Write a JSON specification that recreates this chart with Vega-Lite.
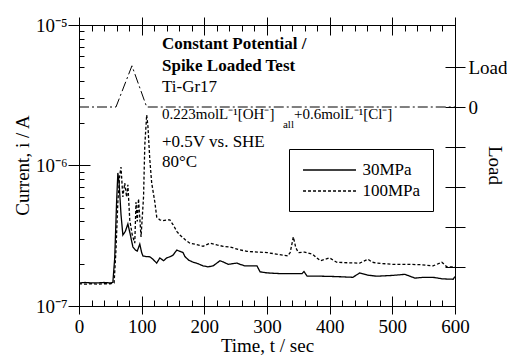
{
  "$schema": "https://vega.github.io/schema/vega-lite/v6.json",
  "width": 376,
  "height": 281,
  "autosize": {"type": "none"},
  "padding": {"left": 79, "top": 25, "right": 52, "bottom": 50},
  "background": "white",
  "config": {
    "view": {"stroke": "black", "strokeWidth": 1},
    "font": "Liberation Serif",
    "mark": {"color": "black"},
    "axis": {
      "grid": false,
      "domain": false,
      "labelFont": "Liberation Serif",
      "titleFont": "Liberation Serif",
      "labelFontSize": 19,
      "titleFontSize": 19,
      "labelColor": "black",
      "titleColor": "black",
      "tickColor": "black",
      "titleFontWeight": "normal",
      "labelFlush": false,
      "labelOverlap": false,
      "tickWidth": 1
    }
  },
  "datasets": {
    "current": [
      {"t": 0, "i": 1.46e-7, "series": "30MPa"},
      {"t": 10, "i": 1.47e-7, "series": "30MPa"},
      {"t": 20, "i": 1.46e-7, "series": "30MPa"},
      {"t": 30, "i": 1.46e-7, "series": "30MPa"},
      {"t": 40, "i": 1.47e-7, "series": "30MPa"},
      {"t": 50, "i": 1.46e-7, "series": "30MPa"},
      {"t": 54, "i": 1.47e-7, "series": "30MPa"},
      {"t": 57, "i": 2.2e-7, "series": "30MPa"},
      {"t": 60, "i": 5.5e-7, "series": "30MPa"},
      {"t": 62, "i": 8.85e-7, "series": "30MPa"},
      {"t": 64, "i": 7.5e-7, "series": "30MPa"},
      {"t": 67, "i": 4.5e-7, "series": "30MPa"},
      {"t": 70, "i": 3.2e-7, "series": "30MPa"},
      {"t": 74, "i": 3.4e-7, "series": "30MPa"},
      {"t": 78, "i": 3.84e-7, "series": "30MPa"},
      {"t": 82, "i": 3.2e-7, "series": "30MPa"},
      {"t": 86, "i": 2.63e-7, "series": "30MPa"},
      {"t": 90, "i": 2.5e-7, "series": "30MPa"},
      {"t": 93, "i": 2.46e-7, "series": "30MPa"},
      {"t": 97, "i": 2.76e-7, "series": "30MPa"},
      {"t": 100, "i": 2.4e-7, "series": "30MPa"},
      {"t": 102, "i": 2.27e-7, "series": "30MPa"},
      {"t": 107, "i": 2.25e-7, "series": "30MPa"},
      {"t": 113, "i": 2.24e-7, "series": "30MPa"},
      {"t": 118, "i": 2.15e-7, "series": "30MPa"},
      {"t": 124, "i": 2.02e-7, "series": "30MPa"},
      {"t": 129, "i": 2.2e-7, "series": "30MPa"},
      {"t": 135, "i": 2.1e-7, "series": "30MPa"},
      {"t": 140, "i": 2.2e-7, "series": "30MPa"},
      {"t": 145, "i": 2.24e-7, "series": "30MPa"},
      {"t": 150, "i": 2.3e-7, "series": "30MPa"},
      {"t": 156, "i": 2.5e-7, "series": "30MPa"},
      {"t": 161, "i": 2.45e-7, "series": "30MPa"},
      {"t": 166, "i": 2.4e-7, "series": "30MPa"},
      {"t": 169, "i": 2.25e-7, "series": "30MPa"},
      {"t": 175, "i": 2.12e-7, "series": "30MPa"},
      {"t": 182, "i": 2.05e-7, "series": "30MPa"},
      {"t": 190, "i": 2.0e-7, "series": "30MPa"},
      {"t": 198, "i": 1.93e-7, "series": "30MPa"},
      {"t": 206, "i": 1.9e-7, "series": "30MPa"},
      {"t": 214, "i": 1.93e-7, "series": "30MPa"},
      {"t": 220, "i": 2.02e-7, "series": "30MPa"},
      {"t": 225, "i": 2.1e-7, "series": "30MPa"},
      {"t": 231, "i": 2.05e-7, "series": "30MPa"},
      {"t": 238, "i": 1.98e-7, "series": "30MPa"},
      {"t": 245, "i": 2.0e-7, "series": "30MPa"},
      {"t": 252, "i": 2.02e-7, "series": "30MPa"},
      {"t": 258, "i": 1.97e-7, "series": "30MPa"},
      {"t": 265, "i": 1.93e-7, "series": "30MPa"},
      {"t": 275, "i": 1.93e-7, "series": "30MPa"},
      {"t": 284, "i": 1.93e-7, "series": "30MPa"},
      {"t": 289, "i": 1.75e-7, "series": "30MPa"},
      {"t": 300, "i": 1.72e-7, "series": "30MPa"},
      {"t": 321, "i": 1.7e-7, "series": "30MPa"},
      {"t": 340, "i": 1.7e-7, "series": "30MPa"},
      {"t": 356, "i": 1.7e-7, "series": "30MPa"},
      {"t": 359, "i": 1.76e-7, "series": "30MPa"},
      {"t": 364, "i": 1.63e-7, "series": "30MPa"},
      {"t": 385, "i": 1.63e-7, "series": "30MPa"},
      {"t": 410, "i": 1.62e-7, "series": "30MPa"},
      {"t": 437, "i": 1.6e-7, "series": "30MPa"},
      {"t": 448, "i": 1.72e-7, "series": "30MPa"},
      {"t": 460, "i": 1.66e-7, "series": "30MPa"},
      {"t": 475, "i": 1.63e-7, "series": "30MPa"},
      {"t": 500, "i": 1.65e-7, "series": "30MPa"},
      {"t": 520, "i": 1.68e-7, "series": "30MPa"},
      {"t": 536, "i": 1.58e-7, "series": "30MPa"},
      {"t": 550, "i": 1.6e-7, "series": "30MPa"},
      {"t": 565, "i": 1.6e-7, "series": "30MPa"},
      {"t": 580, "i": 1.56e-7, "series": "30MPa"},
      {"t": 597, "i": 1.55e-7, "series": "30MPa"},
      {"t": 600, "i": 1.62e-7, "series": "30MPa"},
      {"t": 0, "i": 1.44e-7, "series": "100MPa"},
      {"t": 10, "i": 1.43e-7, "series": "100MPa"},
      {"t": 20, "i": 1.44e-7, "series": "100MPa"},
      {"t": 30, "i": 1.43e-7, "series": "100MPa"},
      {"t": 40, "i": 1.44e-7, "series": "100MPa"},
      {"t": 50, "i": 1.44e-7, "series": "100MPa"},
      {"t": 56, "i": 1.46e-7, "series": "100MPa"},
      {"t": 59, "i": 2.5e-7, "series": "100MPa"},
      {"t": 62, "i": 5.5e-7, "series": "100MPa"},
      {"t": 65, "i": 8.5e-7, "series": "100MPa"},
      {"t": 67, "i": 9.75e-7, "series": "100MPa"},
      {"t": 70, "i": 5.97e-7, "series": "100MPa"},
      {"t": 73, "i": 7.5e-7, "series": "100MPa"},
      {"t": 76, "i": 5.97e-7, "series": "100MPa"},
      {"t": 78, "i": 7.3e-7, "series": "100MPa"},
      {"t": 81, "i": 4.1e-7, "series": "100MPa"},
      {"t": 85, "i": 3.2e-7, "series": "100MPa"},
      {"t": 89, "i": 2.8e-7, "series": "100MPa"},
      {"t": 91, "i": 5.5e-7, "series": "100MPa"},
      {"t": 93, "i": 4.0e-7, "series": "100MPa"},
      {"t": 95, "i": 5.8e-7, "series": "100MPa"},
      {"t": 99, "i": 3.1e-7, "series": "100MPa"},
      {"t": 103, "i": 6.0e-7, "series": "100MPa"},
      {"t": 105, "i": 1.4e-6, "series": "100MPa"},
      {"t": 108, "i": 2.29e-6, "series": "100MPa"},
      {"t": 110, "i": 1.9e-6, "series": "100MPa"},
      {"t": 113, "i": 1.1e-6, "series": "100MPa"},
      {"t": 116, "i": 7.5e-7, "series": "100MPa"},
      {"t": 121, "i": 5.5e-7, "series": "100MPa"},
      {"t": 124, "i": 4.3e-7, "series": "100MPa"},
      {"t": 129, "i": 4.1e-7, "series": "100MPa"},
      {"t": 134, "i": 4.05e-7, "series": "100MPa"},
      {"t": 140, "i": 4.1e-7, "series": "100MPa"},
      {"t": 145, "i": 4.1e-7, "series": "100MPa"},
      {"t": 150, "i": 3.8e-7, "series": "100MPa"},
      {"t": 156, "i": 3.4e-7, "series": "100MPa"},
      {"t": 161, "i": 3.2e-7, "series": "100MPa"},
      {"t": 170, "i": 2.95e-7, "series": "100MPa"},
      {"t": 177, "i": 2.8e-7, "series": "100MPa"},
      {"t": 186, "i": 2.75e-7, "series": "100MPa"},
      {"t": 198, "i": 2.66e-7, "series": "100MPa"},
      {"t": 209, "i": 2.8e-7, "series": "100MPa"},
      {"t": 220, "i": 2.72e-7, "series": "100MPa"},
      {"t": 230, "i": 2.66e-7, "series": "100MPa"},
      {"t": 241, "i": 2.63e-7, "series": "100MPa"},
      {"t": 255, "i": 2.52e-7, "series": "100MPa"},
      {"t": 268, "i": 2.45e-7, "series": "100MPa"},
      {"t": 285, "i": 2.42e-7, "series": "100MPa"},
      {"t": 300, "i": 2.4e-7, "series": "100MPa"},
      {"t": 318, "i": 2.33e-7, "series": "100MPa"},
      {"t": 333, "i": 2.27e-7, "series": "100MPa"},
      {"t": 337, "i": 2.4e-7, "series": "100MPa"},
      {"t": 342, "i": 3.1e-7, "series": "100MPa"},
      {"t": 346, "i": 2.6e-7, "series": "100MPa"},
      {"t": 350, "i": 2.4e-7, "series": "100MPa"},
      {"t": 360, "i": 2.42e-7, "series": "100MPa"},
      {"t": 373, "i": 2.33e-7, "series": "100MPa"},
      {"t": 385, "i": 2.1e-7, "series": "100MPa"},
      {"t": 393, "i": 2.15e-7, "series": "100MPa"},
      {"t": 400, "i": 2.2e-7, "series": "100MPa"},
      {"t": 411, "i": 2.05e-7, "series": "100MPa"},
      {"t": 430, "i": 2.03e-7, "series": "100MPa"},
      {"t": 448, "i": 2.02e-7, "series": "100MPa"},
      {"t": 461, "i": 2.15e-7, "series": "100MPa"},
      {"t": 468, "i": 2.05e-7, "series": "100MPa"},
      {"t": 475, "i": 2.02e-7, "series": "100MPa"},
      {"t": 501, "i": 1.98e-7, "series": "100MPa"},
      {"t": 520, "i": 1.98e-7, "series": "100MPa"},
      {"t": 544, "i": 1.97e-7, "series": "100MPa"},
      {"t": 565, "i": 1.93e-7, "series": "100MPa"},
      {"t": 579, "i": 2.05e-7, "series": "100MPa"},
      {"t": 587, "i": 1.9e-7, "series": "100MPa"},
      {"t": 600, "i": 1.9e-7, "series": "100MPa"}
    ],
    "load": [
      {"t": 0, "load": 0},
      {"t": 59, "load": 0},
      {"t": 84.5, "load": 1.03},
      {"t": 108, "load": 0},
      {"t": 600, "load": 0}
    ],
    "bold": [
      {"t": 132.4, "i": 6.71e-6, "txt": "Constant Potential /"},
      {"t": 132.4, "i": 4.71e-6, "txt": "Spike Loaded Test"}
    ],
    "notes": [
      {"t": 132.4, "i": 3.35e-6, "txt": "Ti-Gr17"},
      {"t": 132.4, "i": 1.355e-6, "txt": "+0.5V vs. SHE"},
      {"t": 132.4, "i": 9.75e-7, "txt": "80°C"}
    ],
    "formula": [
      {"t": 132.4, "i": 2.14e-6, "txt": "0.223molL⁻¹[OH⁻]"},
      {"t": 343, "i": 2.14e-6, "txt": "+0.6molL⁻¹[Cl⁻]"}
    ],
    "sub": [
      {"t": 325.5, "i": 1.85e-6, "txt": "all"}
    ]
  },
  "layer": [
    {
      "data": {"name": "current"},
      "mark": {"type": "line", "strokeWidth": 1.3, "color": "black"},
      "encoding": {
        "x": {
          "field": "t", "type": "quantitative",
          "scale": {"domain": [0, 600], "nice": false, "zero": false},
          "axis": {
            "orient": "bottom", "values": [0, 100, 200, 300, 400, 500, 600],
            "offset": -10, "tickSize": 18, "labelPadding": 3,
            "title": "Time, t / sec", "titleX": 188, "titleY": 55,
            "titleAlign": "center", "titleBaseline": "alphabetic"
          }
        },
        "y": {
          "field": "i", "type": "quantitative",
          "scale": {"type": "log", "domain": [1e-7, 1e-5], "nice": false},
          "axis": {
            "orient": "left", "values": [1e-7, 1e-6, 1e-5],
            "offset": -11, "tickSize": 22, "labelPadding": 1,
            "labelExpr": "'10' + (datum.value < 5e-7 ? '⁻⁷' : datum.value < 5e-6 ? '⁻⁶' : '⁻⁵')",
            "title": "Current, i / A", "titleAngle": -90, "titleX": -62, "titleY": 140,
            "titleAlign": "center", "titleBaseline": "alphabetic"
          }
        },
        "strokeDash": {
          "field": "series", "type": "nominal",
          "scale": {"domain": ["30MPa", "100MPa"], "range": [[1, 0], [3, 2]]},
          "legend": {
            "title": null, "orient": "none", "legendX": 210, "legendY": 124,
            "padding": 12, "strokeColor": "black", "fillColor": "white",
            "symbolType": "M-3.31,0L3.31,0", "symbolSize": 256, "symbolStrokeWidth": 1.3,
            "symbolStrokeColor": "black", "symbolOffset": 19.5, "labelOffset": 24,
            "labelFontSize": 17, "labelFont": "Liberation Serif", "labelColor": "black",
            "rowPadding": 4
          }
        }
      }
    },
    {
      "data": {"name": "bold"},
      "mark": {"type": "text", "align": "left", "baseline": "alphabetic", "fontSize": 17, "fontWeight": "bold", "font": "Liberation Serif", "color": "black"},
      "encoding": {
        "x": {
          "field": "t", "type": "quantitative",
          "scale": {"domain": [0, 600], "nice": false, "zero": false},
          "axis": {
            "orient": "bottom",
            "values": [20, 40, 60, 80, 120, 140, 160, 180, 220, 240, 260, 280, 320, 340, 360, 380, 420, 440, 460, 480, 520, 540, 560, 580],
            "ticks": true, "tickSize": -6, "tickColor": "black", "tickOpacity": 1, "tickWidth": 1, "zindex": 1,
            "labels": false, "title": null
          }
        },
        "y": {
          "field": "i", "type": "quantitative",
          "scale": {"type": "log", "domain": [1e-7, 1e-5], "nice": false},
          "axis": {
            "orient": "left",
            "values": [2e-7, 3e-7, 4e-7, 5e-7, 6e-7, 7e-7, 8e-7, 9e-7, 2e-6, 3e-6, 4e-6, 5e-6, 6e-6, 7e-6, 8e-6, 9e-6],
            "ticks": true, "tickSize": -5, "tickColor": "black", "tickOpacity": 1, "tickWidth": 1, "zindex": 1,
            "labels": false, "title": null
          }
        },
        "text": {"field": "txt"}
      }
    },
    {
      "data": {"name": "load"},
      "mark": {"type": "line", "strokeDash": [10, 3, 2, 3], "strokeWidth": 1, "color": "black"},
      "encoding": {
        "x": {
          "field": "t", "type": "quantitative",
          "scale": {"domain": [0, 600], "nice": false, "zero": false},
          "axis": {
            "orient": "top", "values": [0, 100, 200, 300, 400, 500, 600],
            "offset": -10, "ticks": true, "tickSize": 18, "tickColor": "black", "tickOpacity": 1, "zindex": 1,
            "labels": false, "title": null
          }
        },
        "y": {
          "field": "load", "type": "quantitative",
          "scale": {"domain": [-4.975, 2.05], "nice": false, "zero": false},
          "axis": {
            "orient": "right", "values": [-4, -3, -2, -1, 0, 1],
            "offset": -10, "tickSize": 20, "labelPadding": 3,
            "labelExpr": "datum.value == 1 ? 'Load' : datum.value == 0 ? '0' : ''",
            "title": "Load", "titleAngle": 90, "titleX": 43, "titleY": 140,
            "titleAlign": "center", "titleBaseline": "alphabetic"
          }
        }
      }
    },
    {
      "data": {"name": "notes"},
      "mark": {"type": "text", "align": "left", "baseline": "alphabetic", "fontSize": 17, "font": "Liberation Serif", "color": "black"},
      "encoding": {
        "x": {
          "field": "t", "type": "quantitative",
          "scale": {"domain": [0, 600], "nice": false, "zero": false},
          "axis": {
            "orient": "top",
            "values": [20, 40, 60, 80, 120, 140, 160, 180, 220, 240, 260, 280, 320, 340, 360, 380, 420, 440, 460, 480, 520, 540, 560, 580],
            "ticks": true, "tickSize": -6, "tickColor": "black", "tickOpacity": 1, "tickWidth": 1, "zindex": 1,
            "labels": false, "title": null
          }
        },
        "y": {
          "field": "i", "type": "quantitative",
          "scale": {"type": "log", "domain": [1e-7, 1e-5], "nice": false},
          "axis": null
        },
        "text": {"field": "txt"}
      }
    },
    {
      "data": {"name": "formula"},
      "mark": {"type": "text", "align": "left", "baseline": "alphabetic", "fontSize": 15, "font": "Liberation Serif", "color": "black"},
      "encoding": {
        "x": {"field": "t", "type": "quantitative", "scale": {"domain": [0, 600], "nice": false, "zero": false}, "axis": null},
        "y": {"field": "i", "type": "quantitative", "scale": {"type": "log", "domain": [1e-7, 1e-5], "nice": false}, "axis": null},
        "text": {"field": "txt"}
      }
    },
    {
      "data": {"name": "sub"},
      "mark": {"type": "text", "align": "left", "baseline": "alphabetic", "fontSize": 11, "font": "Liberation Serif", "color": "black"},
      "encoding": {
        "x": {"field": "t", "type": "quantitative", "scale": {"domain": [0, 600], "nice": false, "zero": false}, "axis": null},
        "y": {"field": "i", "type": "quantitative", "scale": {"type": "log", "domain": [1e-7, 1e-5], "nice": false}, "axis": null},
        "text": {"field": "txt"}
      }
    }
  ],
  "resolve": {
    "scale": {"y": "independent"},
    "axis": {"x": "independent", "y": "independent"}
  }
}
